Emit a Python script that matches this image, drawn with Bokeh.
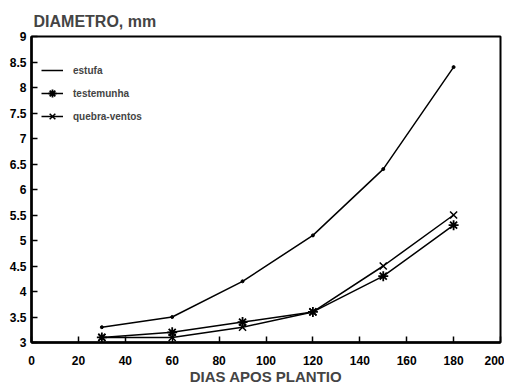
from bokeh.plotting import figure
from bokeh.models import FixedTicker, Legend, LegendItem
from bokeh.embed import file_html
from bokeh.resources import INLINE

dias = [30, 60, 90, 120, 150, 180]
estufa = [3.3, 3.5, 4.2, 5.1, 6.4, 8.4]
testemunha = [3.1, 3.2, 3.4, 3.6, 4.3, 5.3]
quebra_ventos = [3.1, 3.1, 3.3, 3.6, 4.5, 5.5]
x_ticks = [0, 20, 40, 60, 80, 100, 120, 140, 160, 180, 200]
y_ticks = [3, 3.5, 4, 4.5, 5, 5.5, 6, 6.5, 7, 7.5, 8, 8.5, 9]

FONT = "Liberation Sans"

p = figure(width=504, height=387, output_backend="svg", toolbar_location=None,
           x_range=(0, 200), y_range=(3, 9),
           min_border_left=31, min_border_right=4, min_border_bottom=20, min_border_top=36)
p.title.text = "DIAMETRO, mm"
p.title.text_font = FONT
p.title.text_font_style = "bold"
p.title.text_font_size = "16px"
p.title.offset = 2
p.title.standoff = 13
p.xgrid.visible = False
p.ygrid.visible = False
p.outline_line_color = "black"
p.outline_line_width = 2
p.outline_line_alpha = 1

for ax in (p.xaxis, p.yaxis):
    ax.axis_line_width = 2.5
    ax.major_tick_in = 6
    ax.major_tick_out = 0
    ax.minor_tick_line_color = None
    ax.major_tick_line_width = 1.5
    ax.major_label_text_font = FONT
    ax.major_label_text_font_style = "bold"
    ax.major_label_text_font_size = "12px"
    ax.major_label_text_color = "black"
p.xaxis.ticker = FixedTicker(ticks=x_ticks)
p.yaxis.ticker = FixedTicker(ticks=y_ticks)
p.xaxis.axis_label = "DIAS APOS PLANTIO"
p.xaxis.axis_label_text_font = FONT
p.xaxis.axis_label_text_font_style = "bold"
p.xaxis.axis_label_text_font_size = "15px"
p.xaxis.axis_label_standoff = 0
p.yaxis.major_label_standoff = 5
p.xaxis.major_label_standoff = 13

l1 = p.line(dias, estufa, line_color="black", line_width=1.5)
m1 = p.scatter(dias, estufa, marker="circle", size=3, color="black")
l2 = p.line(dias, testemunha, line_color="black", line_width=1.5)
m2 = p.scatter(dias, testemunha, marker="asterisk", size=10, line_color="black", line_width=1.8)
l3 = p.line(dias, quebra_ventos, line_color="black", line_width=1.5)
m3 = p.scatter(dias, quebra_ventos, marker="x", size=10, line_color="black", line_width=1.5)

legend = Legend(items=[
    LegendItem(label="estufa", renderers=[l1]),
    LegendItem(label="testemunha", renderers=[l2, m2]),
    LegendItem(label="quebra-ventos", renderers=[l3, m3]),
], location=(10, 216))
legend.border_line_color = None
legend.background_fill_alpha = 0
legend.label_text_font = FONT
legend.label_text_font_style = "bold"
legend.label_text_font_size = "10px"
legend.glyph_width = 22
legend.glyph_height = 20
legend.spacing = 3
legend.margin = 0
legend.padding = 2
legend.label_standoff = 10
p.add_layout(legend)

open("out.html", "w").write(file_html(p, INLINE))
